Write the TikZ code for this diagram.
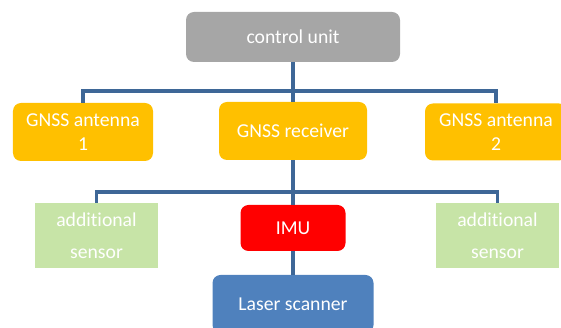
\documentclass[tikz,border=0pt]{standalone}
\usepackage{fontspec}
\setmainfont{Carlito}[Ligatures=NoCommon]
\usepackage{tikz}

\definecolor{unitgray}{HTML}{A6A6A6}
\definecolor{gnssyellow}{HTML}{FFC000}
\definecolor{imured}{HTML}{FF0000}
\definecolor{sensorgreen}{HTML}{C7E4A7}
\definecolor{scannerblue}{HTML}{4F81BD}
\definecolor{linkblue}{HTML}{3E6797}

\begin{document}
\begin{tikzpicture}[
		box/.style={rounded corners=0.2cm, inner sep=0pt, text=white, align=center,
			font=\fontsize{14}{17}\selectfont},
		link/.style={draw=linkblue, line width=2.2pt}]
					\useasboundingbox (0, 0) rectangle (14.025, 8.2);
					\node[box, fill=unitgray, minimum width=5.35cm, minimum height=1.25cm] (ctrl) at (7.325, 7.275) {control unit};
					\node[box, fill=gnssyellow, minimum width=3.5cm, minimum height=1.45cm] (ant1) at (2.075, 4.9) {GNSS antenna\\1};
					\node[box, fill=gnssyellow, minimum width=3.7cm, minimum height=1.45cm] (rec) at (7.325, 4.925) {GNSS receiver};
					\node[box, fill=gnssyellow, minimum width=3.55cm, minimum height=1.425cm] (ant2) at (12.4, 4.9) {GNSS antenna\\2};
					\node[box, rounded corners=0pt, fill=sensorgreen, minimum width=3.075cm, minimum height=1.625cm,
						font=\fontsize{14}{23}\selectfont] (sens1) at (2.4125, 2.3125) {additional\\sensor};
					\node[box, fill=imured, minimum width=2.625cm, minimum height=1.15cm] (imu) at (7.325, 2.5) {IMU};
					\node[box, rounded corners=0pt, fill=sensorgreen, minimum width=3.075cm, minimum height=1.625cm,
						font=\fontsize{14}{23}\selectfont] (sens2) at (12.4375, 2.3125) {additional\\sensor};
					\node[box, fill=scannerblue, minimum width=4.025cm, minimum height=1.45cm] (laser) at (7.325, 0.6) {Laser scanner};
					\coordinate (bus1) at (7.325, 5.925);
					\coordinate (bus2) at (7.325, 3.4);
					\draw[link] (ctrl) -- (rec);
					\draw[link] (ant1) |- (bus1) -| (ant2);
					\draw[link] (rec) -- (imu);
					\draw[link] (sens1) |- (bus2) -| (sens2);
					\draw[link] (imu) -- (laser);
				\end{tikzpicture}
\end{document}
